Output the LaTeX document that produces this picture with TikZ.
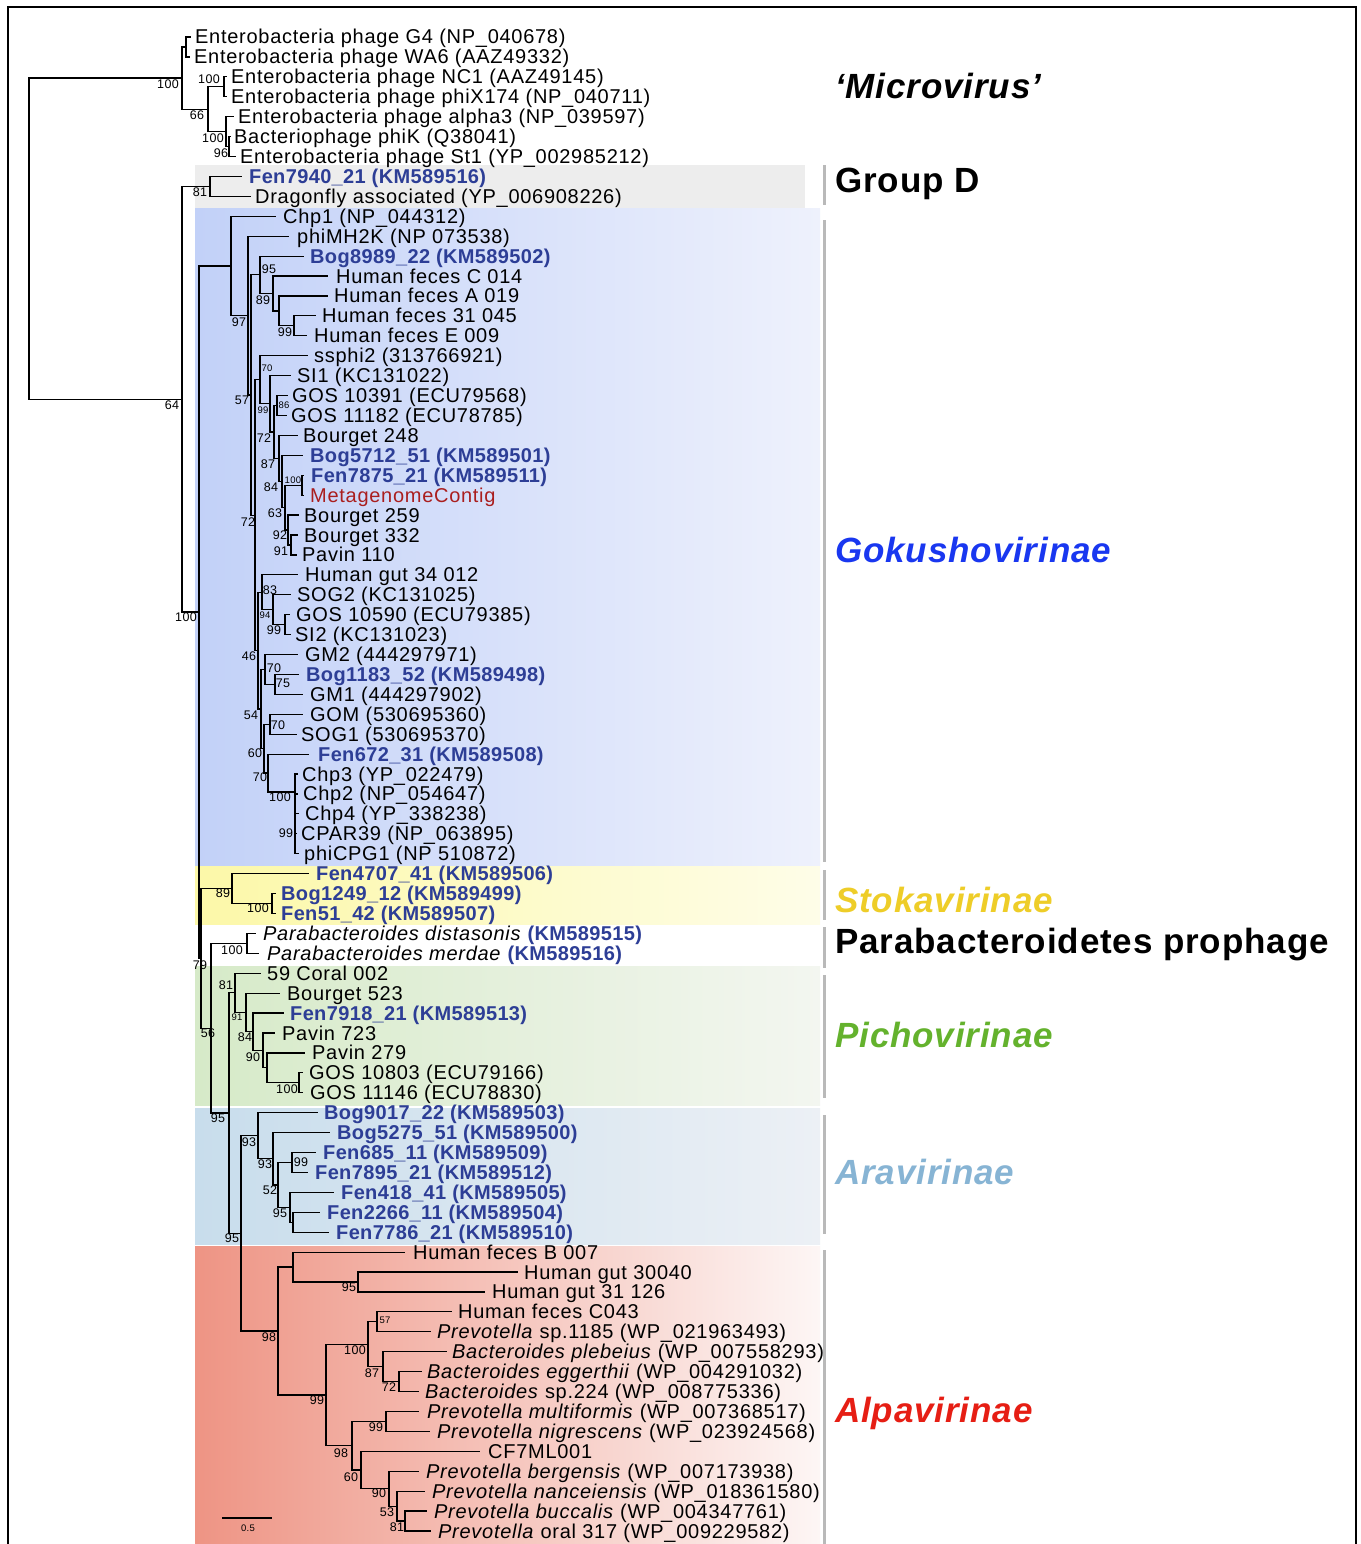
\documentclass[tikz,border=0pt]{standalone}
\usepackage{fontspec}
\setmainfont{Liberation Sans}[LetterSpace=3.6, BoldFeatures={LetterSpace=1.8}, ItalicFeatures={LetterSpace=3.6}, BoldItalicFeatures={LetterSpace=2.5}]
\newfontfamily\cladefam{Liberation Sans}[LetterSpace=2.5]
\definecolor{kmblue}{RGB}{45,62,150}
\definecolor{metared}{RGB}{170,30,30}
\definecolor{gokublue}{RGB}{25,55,240}
\definecolor{stokayel}{RGB}{238,205,40}
\definecolor{pichogreen}{RGB}{100,178,45}
\definecolor{aralight}{RGB}{135,180,212}
\definecolor{alpared}{RGB}{230,30,20}
\definecolor{bargray}{RGB}{185,185,185}
\newcommand\kmb[1]{{\bfseries\color{kmblue}#1}}
\newcommand\leaffont{\fontsize{20}{24}\selectfont}
\newcommand\bsfont{\fontsize{12.5}{14}\selectfont}
\newcommand\bssmall{\fontsize{9.5}{11}\selectfont}
\newcommand\cladefont{\cladefam\fontsize{35}{40}\selectfont\bfseries}
\begin{document}
\begin{tikzpicture}[x=1pt,y=-1pt,
  declare function={ly(\i)=37+(\i-1)*19.92;},
  br/.style={line width=1.2pt,line cap=rect},
  leaf/.style={anchor=base west,inner sep=0pt,font=\leaffont},
  bsl/.style={inner sep=0pt,font=\bsfont},
  bss/.style={inner sep=0pt,font=\bssmall},
  clade/.style={anchor=base west,inner sep=0pt,font=\cladefont},
  cbar/.style={draw=bargray,line width=3pt}]
\useasboundingbox (0,0) rectangle (1360,1544);
\fill[white] (0,0) rectangle (1360,1544);
% ---------- clade bands ----------
\fill[black!7] (195,165) rectangle (805,208);
\shade[left color={rgb,255:red,194;green,209;blue,248}, right color={rgb,255:red,238;green,241;blue,252}] (195,208) rectangle (820,865);
\shade[left color={rgb,255:red,252;green,248;blue,168}, right color={rgb,255:red,254;green,253;blue,232}] (195,866) rectangle (820,924);
\shade[left color={rgb,255:red,214;green,234;blue,200}, right color={rgb,255:red,243;green,246;blue,240}] (195,966) rectangle (820,1105);
\shade[left color={rgb,255:red,200;green,221;blue,236}, right color={rgb,255:red,236;green,240;blue,245}] (195,1108) rectangle (820,1244);
\shade[left color={rgb,255:red,238;green,148;blue,132}, right color={rgb,255:red,253;green,246;blue,245}] (195,1246) rectangle (820,1544);
% ---------- frame ----------
\draw[line width=2pt] (8,7) rectangle (1356,1570);
% ---------- internal nodes ----------
\foreach \n/\x/\k in {ROOT/29/11.12, MICRO/182/3.0625, GW/186/1.5, N66/208/4.625, NP/224/3.5, AL/226/5.75, PS/229/6.5,
  NSF/182/19.19, GD/210/8.5, NHUN/199/29.87, GOKU/231/12.493, N97/248/14.986, N57/251/18.972,
  NBog/260/12.9375, N89/273/13.875, NA/279/14.75, N99h/294/15.5,
  B/255/25.007, Nss/260/18.207, N99/270/19.414, N72b/274/20.828, N86/277/19.5, N87/279/22.156,
  N84/282/23.3125, N63/285/24.625, FM/302/23.5, N92/288/25.75, N91/291/26.5,
  N46/258/31.806, Nhg/262/28.875, N94/273/29.75, N99f/285/30.5,
  N54/261/34.7375, N70b/265/32.75, N75/275/33.5, N60/264/36.725, N70c/270/35.5, N70d/268/37.95, CHP/295/38.9,
  N79/201/47.25, STOKA/232/43.75, SB/272/44.5, N56/211/50.76, PAR/247/46.5,
  N95a/229/55.02, PICHO/235/48.98, N91p/246/49.97, N84p/253/50.94, N90p/263/51.875, N267/267/52.75, G2/299/53.5,
  N95b/241/61.06, ARA/258/56.16, N93b/273/57.31, N52/278/58.625, N99a/292/57.5, N95c/290/59.75, F2/293/60.5,
  ALPA/278/65.96, NHF/293/62.75, N95d/358/63.5, N99b/326/69.17, N100c/368/66.625, N57a/377/65.5,
  N87a/383/67.75, N72a/399/68.5, N98b/352/71.72, N99c/386/70.5, N60a/361/72.94, N90a/389/73.875,
  N53/397/74.75, N81/405/75.5}
  \coordinate (\n) at (\x,{ly(\k)});
% ---------- leaves ----------
\foreach \i/\tip/\tx/\txt in {
 1/190/195/{Enterobacteria phage G4 (NP\_040678)},
 2/189/194/{Enterobacteria phage WA6 (AAZ49332)},
 3/226/231/{Enterobacteria phage NC1 (AAZ49145)},
 4/226/231/{Enterobacteria phage phiX174 (NP\_040711)},
 5/233/238/{Enterobacteria phage alpha3 (NP\_039597)},
 6/230/234/{Bacteriophage phiK (Q38041)},
 7/235/240/{Enterobacteria phage St1 (YP\_002985212)},
 8/241/249/{\kmb{Fen7940\_21 (KM589516)}},
 9/250/255/{Dragonfly associated (YP\_006908226)},
 10/275/283/{Chp1 (NP\_044312)},
 11/288/297/{phiMH2K (NP 073538)},
 12/303/310/{\kmb{Bog8989\_22 (KM589502)}},
 13/327/336/{Human feces C 014},
 14/327/334/{Human feces A 019},
 15/315/322/{Human feces 31 045},
 16/306/314/{Human feces E 009},
 17/307/314/{ssphi2 (313766921)},
 18/290/297/{SI1 (KC131022)},
 19/287/292/{GOS 10391 (ECU79568)},
 20/286/291/{GOS 11182 (ECU78785)},
 21/297/303/{Bourget 248},
 22/302/310/{\kmb{Bog5712\_51 (KM589501)}},
 23/303/311/{\kmb{Fen7875\_21 (KM589511)}},
 24/303/310/{\textcolor{metared}{MetagenomeContig}},
 25/298/304/{Bourget 259},
 26/297/304/{Bourget 332},
 27/296/302/{Pavin 110},
 28/297/305/{Human gut 34 012},
 29/290/297/{SOG2 (KC131025)},
 30/289/296/{GOS 10590 (ECU79385)},
 31/290/295/{SI2 (KC131023)},
 32/297/305/{GM2 (444297971)},
 33/298/306/{\kmb{Bog1183\_52 (KM589498)}},
 34/302/310/{GM1 (444297902)},
 35/302/310/{GOM (530695360)},
 36/296/301/{SOG1 (530695370)},
 37/308/318/{\kmb{Fen672\_31 (KM589508)}},
 38/297/302/{Chp3 (YP\_022479)},
 39/297/303/{Chp2 (NP\_054647)},
 40/298/305/{Chp4 (YP\_338238)},
 41/296/301/{CPAR39 (NP\_063895)},
 42/298/304/{phiCPG1 (NP 510872)},
 43/308/316/{\kmb{Fen4707\_41 (KM589506)}},
 44/275/281/{\kmb{Bog1249\_12 (KM589499)}},
 45/275/281/{\kmb{Fen51\_42 (KM589507)}},
 46/255/263/{\textit{Parabacteroides distasonis} \kmb{(KM589515)}},
 47/258/267/{\textit{Parabacteroides merdae} \kmb{(KM589516)}},
 48/260/267/{59 Coral 002},
 49/279/287/{Bourget 523},
 50/283/290/{\kmb{Fen7918\_21 (KM589513)}},
 51/274/282/{Pavin 723},
 52/304/312/{Pavin 279},
 53/302/309/{GOS 10803 (ECU79166)},
 54/302/310/{GOS 11146 (ECU78830)},
 55/317/324/{\kmb{Bog9017\_22 (KM589503)}},
 56/329/337/{\kmb{Bog5275\_51 (KM589500)}},
 57/315/323/{\kmb{Fen685\_11 (KM589509)}},
 58/307/315/{\kmb{Fen7895\_21 (KM589512)}},
 59/333/341/{\kmb{Fen418\_41 (KM589505)}},
 60/319/327/{\kmb{Fen2266\_11 (KM589504)}},
 61/328/336/{\kmb{Fen7786\_21 (KM589510)}},
 62/404/413/{Human feces B 007},
 63/517/524/{Human gut 30040},
 64/484/492/{Human gut 31 126},
 65/451/458/{Human feces C043},
 66/430/437/{\textit{Prevotella} sp.1185 (WP\_021963493)},
 67/446/452/{\textit{Bacteroides plebeius} (WP\_007558293)},
 68/421/427/{\textit{Bacteroides eggerthii} (WP\_004291032)},
 69/418/425/{\textit{Bacteroides} sp.224 (WP\_008775336)},
 70/418/427/{\textit{Prevotella multiformis} (WP\_007368517)},
 71/429/437/{\textit{Prevotella nigrescens} (WP\_023924568)},
 72/479/488/{CF7ML001},
 73/418/426/{\textit{Prevotella bergensis} (WP\_007173938)},
 74/424/432/{\textit{Prevotella nanceiensis} (WP\_018361580)},
 75/426/434/{\textit{Prevotella buccalis} (WP\_004347761)},
 76/430/438/{\textit{Prevotella} oral 317 (WP\_009229582)}}
{
  \coordinate (L\i) at (\tip,{ly(\i)});
  \node[leaf] (t\i) at (\tx,{ly(\i)+7}) {\txt};
}
% ---------- branches ----------
\foreach \p/\c in {ROOT/MICRO, ROOT/NSF, MICRO/GW, MICRO/N66, GW/L1, GW/L2, N66/NP, N66/AL, NP/L3, NP/L4,
  AL/L5, AL/PS, PS/L6, PS/L7, NSF/GD, NSF/NHUN, GD/L8, GD/L9, NHUN/GOKU, NHUN/N79,
  GOKU/L10, GOKU/N97, N97/L11, N97/N57, N57/NBog, N57/B, NBog/L12, NBog/N89, N89/L13, N89/NA,
  NA/L14, NA/N99h, N99h/L15, N99h/L16, B/Nss, B/N46, Nss/L17, Nss/N99, N99/L18, N99/N72b,
  N72b/N86, N72b/N87, N86/L19, N86/L20, N87/L21, N87/N84, N84/L22, N84/N63, N63/FM, N63/N92,
  FM/L23, FM/L24, N92/L25, N92/N91, N91/L26, N91/L27, N46/Nhg, N46/N54, Nhg/L28, Nhg/N94,
  N94/L29, N94/N99f, N99f/L30, N99f/L31, N54/N70b, N54/N60, N70b/L32, N70b/N75, N75/L33, N75/L34,
  N60/N70c, N60/N70d, N70c/L35, N70c/L36, N70d/L37, N70d/CHP, CHP/L38, CHP/L39, CHP/L40, CHP/L41, CHP/L42,
  N79/STOKA, N79/N56, STOKA/L43, STOKA/SB, SB/L44, SB/L45, N56/PAR, N56/N95a, PAR/L46, PAR/L47,
  N95a/PICHO, N95a/N95b, PICHO/L48, PICHO/N91p, N91p/L49, N91p/N84p, N84p/L50, N84p/N90p,
  N90p/L51, N90p/N267, N267/L52, N267/G2, G2/L53, G2/L54,
  N95b/ARA, N95b/ALPA, ARA/L55, ARA/N93b, N93b/L56, N93b/N52, N52/N99a, N52/N95c, N99a/L57, N99a/L58,
  N95c/L59, N95c/F2, F2/L60, F2/L61,
  ALPA/NHF, ALPA/N99b, NHF/L62, NHF/N95d, N95d/L63, N95d/L64, N99b/N100c, N99b/N98b,
  N100c/N57a, N100c/N87a, N57a/L65, N57a/L66, N87a/L67, N87a/N72a, N72a/L68, N72a/L69,
  N98b/N99c, N98b/N60a, N99c/L70, N99c/L71, N60a/L72, N60a/N90a, N90a/L73, N90a/N53,
  N53/L74, N53/N81, N81/L75, N81/L76}
  \draw[br] (\p) |- (\c);
\draw[line width=2.6pt] ([yshift=-1pt]L40 -| CHP) -- ([yshift=-14pt]L40 -| CHP);
% ---------- support values ----------
\foreach \x/\y/\t [count=\k] in {168/84/100, 209/79/100, 197/115/66, 213/138/100, 221/153/96, 172/405/64,
  200/192/81, 186/617/100, 239/322/97, 269/269/95, 263/300/89, 285/332/99, 242/400/57,
  264/438/72, 268/464/87, 271/487/84, 275/513/63, 248/522/72, 280/535/92, 281/551/91,
  270/590/83, 274/630/99, 249/656/46, 274/668/70, 283/683/75, 251/715/54, 278/725/70,
  255/753/60, 260/777/70, 280/797/100, 286/833/99, 223/893/89, 258/908/100, 200/965/79,
  232/950/100, 226/985/81, 245/1037/84, 253/1057/90, 287/1089/100, 208/1033/56,
  218/1118/95, 249/1142/93, 265/1164/93, 301/1162/99, 270/1190/52, 280/1213/95, 232/1238/95,
  349/1287/95, 269/1337/98, 355/1350/100, 372/1373/87, 389/1387/72, 317/1400/99, 376/1427/99,
  341/1453/98, 351/1477/60, 379/1493/90, 387/1512/53, 397/1527/81}
  \node[bsl] (bs\k) at (\x,\y) {\t};
\foreach \x/\y/\t [count=\k] in {267/368/70, 263/410/99, 284/405/86, 293/480/100, 265/615/94, 237/1017/91, 385/1320/57}
  \node[bss] (bt\k) at (\x,\y) {\t};
% ---------- scale bar ----------
\coordinate (sbA) at (222,1518);
\coordinate (sbB) at (272,1518);
\draw[line width=1.2pt] (sbA) -- (sbB);
\node[bss] (sblab) at (248,1528) {0.5};
% ---------- clade bars and labels ----------
\foreach \a/\b [count=\k] in {165/205, 220/862, 870/920, 927/968, 975/1098, 1115/1234, 1250/1544}
  { \coordinate (cbt\k) at (824,\a); \coordinate (cbb\k) at (824,\b); \draw[cbar] (cbt\k) -- (cbb\k); }
\node[clade] (cl1) at (835,99) {\itshape ‘Microvirus’};
\node[clade] (cl2) at (835,192) {Group D};
\node[clade,text=gokublue] (cl3) at (835,562) {\itshape Gokushovirinae};
\node[clade,text=stokayel] (cl4) at (835,912) {\itshape Stokavirinae};
\node[clade] (cl5) at (835,953) {Parabacteroidetes prophage};
\node[clade,text=pichogreen] (cl6) at (835,1047) {\itshape Pichovirinae};
\node[clade,text=aralight] (cl7) at (835,1184) {\itshape Aravirinae};
\node[clade,text=alpared] (cl8) at (835,1422) {\itshape Alpavirinae};
\end{tikzpicture}
\end{document}
